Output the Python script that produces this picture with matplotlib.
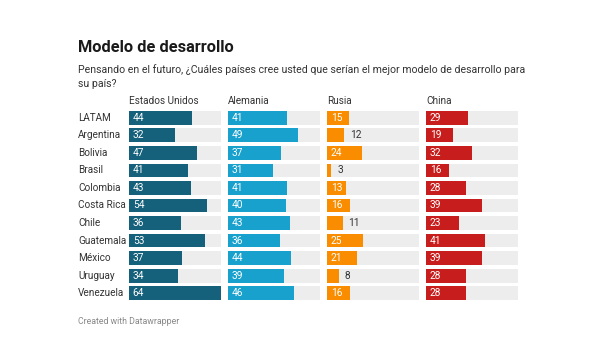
import matplotlib.pyplot as plt

plt.rcParams['font.family'] = ['Roboto', 'DejaVu Sans']

# data
paises = ['LATAM', 'Argentina', 'Bolivia', 'Brasil', 'Colombia', 'Costa Rica',
          'Chile', 'Guatemala', 'México', 'Uruguay', 'Venezuela']
columnas = ['Estados Unidos', 'Alemania', 'Rusia', 'China']
estados_unidos = [44, 32, 47, 41, 43, 54, 36, 53, 37, 34, 64]
alemania = [41, 49, 37, 31, 41, 40, 43, 36, 44, 39, 46]
rusia = [15, 12, 24, 3, 13, 16, 11, 25, 21, 8, 16]
china = [29, 19, 32, 16, 28, 39, 23, 41, 39, 28, 28]
colores = ['#15607a', '#18a1cd', '#fa8c00', '#c71e1d']

series = [estados_unidos, alemania, rusia, china]
vmax = 64

fig = plt.figure(figsize=(6, 3.6), dpi=100)
W, H = 600, 360

# title and subtitle
fig.text(78 / W, 1 - 47 / H, 'Modelo de desarrollo', fontsize=11.8, fontweight='bold',
         color='#1a1a1a', va='center')
fig.text(78 / W, 1 - 70 / H, 'Pensando en el futuro, ¿Cuáles países cree usted que serían el mejor modelo de desarrollo para',
         fontsize=7.6, color='#333333', va='center')
fig.text(78 / W, 1 - 84 / H, 'su país?', fontsize=7.6, color='#333333', va='center')
fig.text(78 / W, 1 - 322 / H, 'Created with Datawrapper', fontsize=6.3, color='#888888', va='center')

left0 = 129
colw = 92
gap = 7
top = 109
bottom = 302
ypos = list(range(len(paises)))

for i, (nombre, vals, col) in enumerate(zip(columnas, series, colores)):
    x0 = left0 + i * (colw + gap)
    ax = fig.add_axes([x0 / W, 1 - bottom / H, colw / W, (bottom - top) / H])
    ax.barh(ypos, [vmax] * len(ypos), height=0.78, color='#ededed', zorder=1)
    ax.barh(ypos, vals, height=0.78, color=col, zorder=2)
    for y, v in zip(ypos, vals):
        if v >= 13:
            ax.text(2.6, y, str(v), color='white', va='center', ha='left', fontsize=7.3, zorder=3)
        else:
            ax.text(v + 4, y, str(v), color='#333333', va='center', ha='left', fontsize=7.3, zorder=3)
    ax.set_xlim(0, vmax)
    ax.set_ylim(len(paises) - 0.5, -0.5)
    ax.axis('off')
    fig.text(x0 / W, 1 - 101 / H, nombre, fontsize=7.2, color='#333333', va='center')

    if i == 0:
        for y, p in zip(ypos, paises):
            ax.text(-51 / colw * vmax, y, p, fontsize=7.2, color='#333333', va='center', ha='left')

fig.savefig('out.png', dpi=100, facecolor='white')
